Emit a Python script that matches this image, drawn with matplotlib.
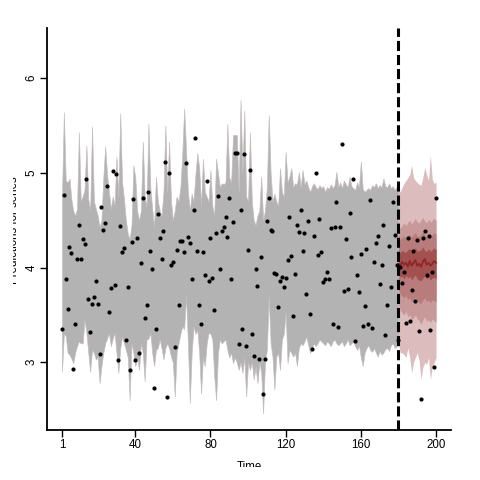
import numpy as np
import matplotlib.pyplot as plt
from matplotlib.transforms import Bbox, TransformedBbox

plt.rcParams['font.family'] = ['Liberation Sans', 'DejaVu Sans']

# observaciones, t = 1..200
obs = [3.35, 4.77, 3.88, 3.56, 4.22, 4.15, 2.93, 3.40, 4.09, 4.45,
       4.09, 4.30, 4.25, 4.94, 3.67, 3.32, 3.62, 3.69, 3.86, 3.62,
       3.09, 4.64, 4.40, 4.47, 4.86, 3.53, 3.78, 5.02, 3.82, 4.99,
       3.02, 4.44, 4.16, 4.21, 3.24, 3.79, 2.92, 4.27, 4.72, 3.02,
       4.31, 3.10, 4.05, 4.74, 3.47, 3.60, 4.80, 4.18, 3.99, 2.73,
       3.35, 4.57, 4.31, 4.09, 4.39, 5.12, 2.63, 5.00, 4.03, 4.06,
       3.16, 4.19, 3.61, 4.28, 4.28, 4.16, 5.10, 4.32, 4.26, 3.88,
       4.61, 5.37, 4.18, 3.60, 3.40, 4.16, 3.92, 4.91, 3.86, 4.31,
       3.89, 3.55, 4.37, 4.76, 3.98, 4.39, 4.43, 4.53, 4.32, 4.74,
       3.88, 4.48, 5.21, 5.21, 3.19, 4.61, 3.35, 5.20, 3.17, 4.19,
       5.03, 3.30, 3.07, 3.99, 3.81, 3.03, 4.11, 2.66, 3.04, 4.49,
       4.73, 4.40, 4.39, 3.94, 3.93, 3.58, 3.86, 3.90, 3.79, 3.89,
       4.08, 4.53, 4.12, 3.49, 3.93, 4.45, 4.38, 4.61, 4.17, 4.36,
       3.72, 4.49, 3.51, 3.14, 4.33, 5.00, 4.13, 4.51, 4.16, 3.85,
       3.88, 3.95, 3.88, 4.42, 3.40, 4.43, 4.69, 3.37, 4.43, 5.30,
       3.75, 4.30, 3.77, 4.58, 4.11, 4.94, 3.22, 3.92, 3.74, 4.14,
       3.38, 3.59, 4.20, 3.40, 4.71, 3.36, 4.06, 4.26, 4.33, 3.83,
       4.03, 4.45, 3.29, 3.61, 4.23, 3.80, 4.69, 4.34, 4.03, 3.24,
       4.01, 3.84, 3.95, 3.41, 4.31, 3.44, 3.76, 4.17, 3.65, 4.29,
       3.33, 2.61, 4.31, 4.39, 3.92, 4.33, 3.34, 3.95, 2.95, 4.74]

# intervalo del periodo de entrenamiento, t = 1..180
hind_upper = [4.75, 5.64, 4.92, 4.90, 4.94, 4.72, 4.60, 4.55, 4.62, 5.43,
              4.70, 4.75, 4.82, 5.29, 4.72, 4.60, 5.49, 4.70, 4.62, 4.55,
              4.43, 4.50, 4.95, 5.28, 4.98, 4.80, 4.62, 4.75, 4.66, 5.17,
              4.75, 5.63, 4.90, 4.72, 4.50, 4.36, 4.30, 4.45, 5.08, 4.95,
              4.60, 4.50, 4.60, 5.33, 4.75, 4.64, 5.52, 4.85, 4.62, 4.42,
              4.96, 4.70, 4.60, 4.55, 4.80, 5.50, 4.80, 5.33, 4.70, 4.50,
              4.60, 4.75, 4.70, 4.85, 5.20, 5.68, 5.25, 4.80, 4.60, 4.78,
              4.70, 4.98, 5.21, 5.05, 4.65, 5.15, 4.80, 4.75, 4.70, 5.03,
              4.65, 4.55, 5.15, 5.00, 4.85, 4.89, 4.88, 4.90, 5.52, 4.95,
              4.90, 5.40, 5.40, 5.40, 4.80, 5.77, 5.00, 5.66, 4.75, 4.70,
              5.43, 4.70, 4.50, 4.45, 4.55, 4.60, 4.96, 4.50, 4.60, 4.85,
              5.61, 5.00, 4.70, 4.78, 4.70, 4.65, 5.05, 4.80, 4.75, 5.22,
              4.90, 4.96, 5.05, 4.85, 4.89, 4.88, 5.01, 4.85, 5.03, 4.88,
              4.92, 4.85, 4.80, 4.86, 4.89, 4.85, 4.83, 4.87, 4.84, 4.86,
              4.80, 4.85, 4.83, 4.88, 4.84, 4.87, 5.01, 4.85, 4.90, 4.84,
              4.92, 4.88, 4.85, 4.96, 4.86, 4.84, 4.82, 4.90, 4.85, 5.12,
              4.83, 4.80, 4.82, 4.84, 4.82, 4.87, 4.85, 4.89, 4.84, 4.87,
              4.85, 4.94, 4.86, 4.85, 4.89, 4.84, 4.86, 4.82, 4.85, 4.82]

hind_lower = [2.90, 3.30, 3.28, 3.10, 3.08, 3.04, 2.99, 3.10, 3.17, 3.22,
              3.20, 3.20, 3.45, 3.31, 3.10, 2.90, 3.13, 3.10, 3.03, 3.05,
              2.78, 2.96, 3.10, 3.20, 3.25, 3.31, 3.17, 3.25, 3.31, 3.10,
              2.89, 3.15, 3.27, 3.20, 3.13, 3.05, 2.60, 3.20, 3.10, 2.96,
              3.05, 2.92, 3.20, 3.10, 2.80, 3.24, 3.25, 3.31, 3.10, 2.96,
              3.13, 3.15, 3.24, 3.15, 3.03, 3.15, 3.20, 3.15, 3.06, 3.00,
              2.64, 3.10, 3.20, 3.30, 3.38, 3.35, 3.70, 3.20, 2.57, 3.10,
              3.38, 3.30, 3.34, 3.10, 2.67, 3.05, 2.96, 3.20, 3.31, 3.30,
              3.24, 2.85, 2.60, 3.10, 3.24, 3.20, 3.22, 3.24, 3.13, 3.05,
              3.10, 2.99, 3.05, 3.00, 2.92, 3.00, 2.89, 3.05, 2.64, 3.00,
              2.92, 3.00, 2.82, 2.95, 2.78, 3.00, 2.89, 2.46, 3.00, 3.13,
              3.69, 3.20, 3.06, 2.71, 3.06, 3.10, 2.92, 3.24, 3.30, 3.52,
              2.99, 3.13, 3.10, 3.06, 3.10, 2.96, 3.15, 3.20, 3.18, 3.22,
              3.27, 3.18, 3.10, 3.15, 3.20, 3.17, 3.20, 3.24, 3.22, 3.20,
              3.18, 3.22, 3.20, 3.17, 3.22, 3.24, 3.20, 3.18, 3.20, 3.22,
              3.17, 3.20, 3.24, 3.18, 3.20, 3.22, 3.17, 3.13, 3.18, 3.05,
              2.96, 3.10, 3.15, 3.18, 3.13, 3.11, 3.15, 3.10, 3.06, 3.12,
              3.08, 3.10, 3.14, 3.15, 3.12, 3.18, 3.20, 3.15, 3.17, 3.20]

# cuantiles del pronostico, t = 180..200
fc_q05 = [3.20, 3.10, 3.10, 3.08, 3.05, 3.15, 3.05, 2.89, 3.00, 3.05, 3.10,
          3.02, 2.82, 2.95, 3.00, 2.98, 3.05, 2.82, 2.95, 3.00, 3.05]
fc_q95 = [4.82, 4.80, 4.85, 4.89, 4.92, 4.95, 4.98, 5.08, 4.95, 4.92, 4.90,
          4.88, 4.87, 4.95, 5.06, 4.98, 4.92, 5.19, 4.93, 4.89, 4.90]
fc_q20 = [3.62, 3.55, 3.52, 3.50, 3.54, 3.48, 3.50, 3.45, 3.47, 3.50, 3.46,
          3.44, 3.40, 3.45, 3.48, 3.43, 3.45, 3.42, 3.46, 3.44, 3.42]
fc_q80 = [4.40, 4.42, 4.45, 4.47, 4.44, 4.48, 4.50, 4.46, 4.49, 4.52, 4.48,
          4.47, 4.50, 4.53, 4.49, 4.47, 4.51, 4.48, 4.50, 4.52, 4.50]
fc_q30 = [3.78, 3.72, 3.70, 3.68, 3.71, 3.66, 3.69, 3.64, 3.67, 3.69, 3.65,
          3.63, 3.62, 3.66, 3.68, 3.64, 3.66, 3.63, 3.66, 3.65, 3.64]
fc_q70 = [4.28, 4.30, 4.32, 4.33, 4.31, 4.34, 4.35, 4.32, 4.35, 4.37, 4.33,
          4.33, 4.35, 4.38, 4.34, 4.33, 4.36, 4.33, 4.35, 4.37, 4.35]
fc_q40 = [3.93, 3.90, 3.91, 3.88, 3.92, 3.89, 3.91, 3.87, 3.90, 3.92, 3.88,
          3.87, 3.86, 3.89, 3.91, 3.88, 3.90, 3.87, 3.89, 3.90, 3.88]
fc_q60 = [4.15, 4.16, 4.18, 4.17, 4.16, 4.19, 4.20, 4.16, 4.19, 4.21, 4.17,
          4.18, 4.19, 4.22, 4.18, 4.17, 4.20, 4.17, 4.19, 4.21, 4.19]
fc_med = [4.04, 4.02, 4.06, 4.03, 4.05, 4.01, 4.07, 4.02, 4.05, 4.08, 4.02,
          4.04, 4.01, 4.06, 4.09, 4.03, 4.05, 4.02, 4.04, 4.07, 4.05]

T_CORTE = 180
x_ticks = [1, 40, 80, 120, 160, 200]
y_ticks = [3, 4, 5, 6]

t_obs = np.arange(1, len(obs) + 1)
t_hind = np.arange(1, len(hind_upper) + 1)
t_fc = np.arange(T_CORTE, T_CORTE + len(fc_med))

fig = plt.figure(figsize=(4.8, 4.8), dpi=100)
ax = fig.add_axes([47 / 480, 50 / 480, 404 / 480, 402 / 480])

# banda gris del entrenamiento
ax.fill_between(t_hind, hind_lower, hind_upper, facecolor='#b3b3b3',
                edgecolor='#c6bcbc', linewidth=0.45)

# bandas del pronostico
ax.fill_between(t_fc, fc_q05, fc_q95, color='#DCBCBC', linewidth=0)
ax.fill_between(t_fc, fc_q20, fc_q80, color='#C79999', linewidth=0)
ax.fill_between(t_fc, fc_q30, fc_q70, color='#B97C7C', linewidth=0)
ax.fill_between(t_fc, fc_q40, fc_q60, color='#A25050', linewidth=0)
ax.plot(t_fc, fc_med, color='#8F2727', lw=1.3)

ax.plot(t_obs, obs, 'o', color='black', ms=3.0, mec='none')

ax.axvline(T_CORTE, color='black', lw=2.2, dashes=(3.3, 1.3))

ax.set_xlim(-6.96, 207.96)
ax.set_ylim(2.285, 6.53)
ax.set_xticks(x_ticks)
ax.set_yticks(y_ticks)

for s in ['top', 'right']:
    ax.spines[s].set_visible(False)
for s in ['left', 'bottom']:
    ax.spines[s].set_linewidth(1.3)

ax.tick_params(direction='out', length=5, width=1, labelsize=8.3,
               colors='black')
ax.tick_params(axis='x', pad=1.5)
ax.tick_params(axis='y', pad=2)
for lab in ax.get_yticklabels():
    lab.set_rotation(90)
    lab.set_va('center')
    lab.set_ha('right')

# etiquetas de ejes (recortadas como en la figura original)
recorte = TransformedBbox(Bbox([[13 / 480, 13 / 480], [1, 1]]), fig.transFigure)
tx = fig.text(249 / 480, 10.5 / 480, 'Time', ha='center', va='baseline',
              fontsize=8.3)
ty = fig.text(17.5 / 480, 250 / 480, 'Predictions for series', rotation=90,
              rotation_mode='anchor', ha='center', va='baseline', fontsize=8.3)
for t in (tx, ty):
    t.set_clip_box(recorte)
    t.set_clip_on(True)

fig.savefig('out.png', dpi=100)
